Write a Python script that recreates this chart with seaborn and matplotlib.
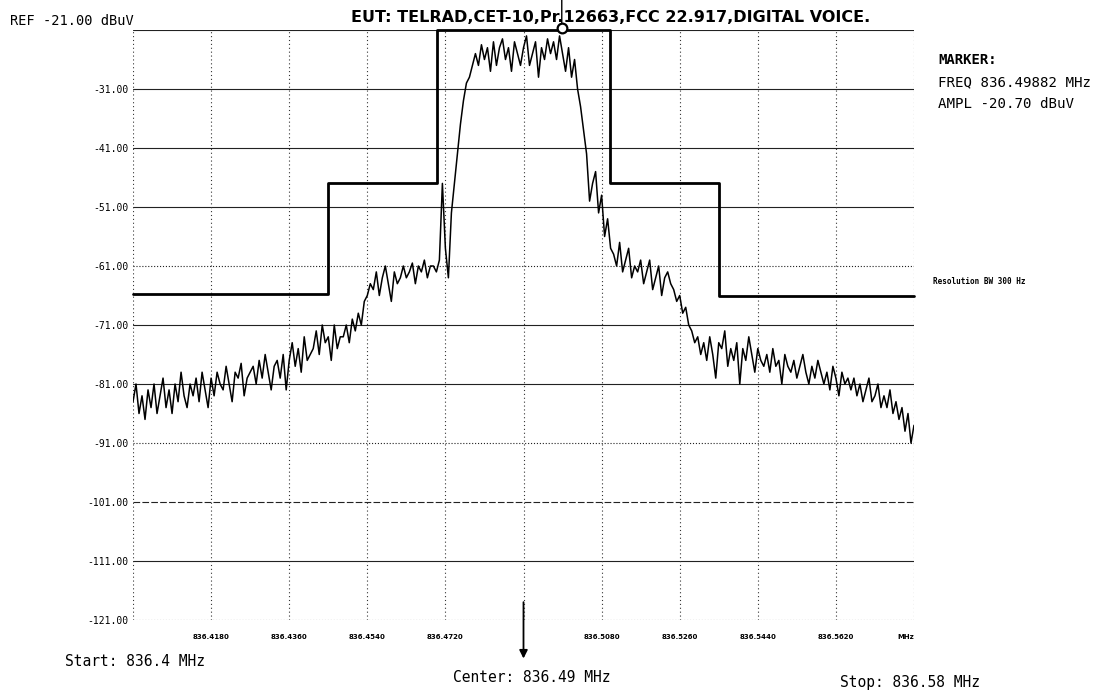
import numpy as np
import matplotlib
matplotlib.use("Agg")
import matplotlib.pyplot as plt
import seaborn as sns

# Sweep settings (MHz)
START_MHZ = 836.40
CENTER_MHZ = 836.49
STOP_MHZ = 836.58
REF_LEVEL = -21.0

# Measured trace, dBuV, evenly spaced over the sweep
trace_dbuv = [
    -84, -81, -86, -83, -87, -82, -85, -81, -86, -83,
    -80, -85, -82, -86, -81, -84, -79, -83, -85, -81,
    -83, -80, -84, -79, -82, -85, -80, -83, -79, -81,
    -82, -78, -81, -84, -79, -80, -77.5, -83, -80, -79,
    -78, -81, -77, -80, -76, -79, -82, -78, -77, -80,
    -76, -82, -77, -74, -78, -75, -79, -73, -77, -76,
    -75, -72, -76, -71, -74, -73, -77, -71, -75, -73,
    -73, -71, -74, -70, -72, -69, -71, -67, -66, -64,
    -65, -62, -66, -63, -61, -64, -67, -62, -64, -63,
    -61, -63, -62, -60.5, -64, -61, -62, -60, -63, -61,
    -61, -62, -60, -47, -58, -63, -52, -47, -42, -37,
    -33, -30, -29, -27, -25, -27, -23.5, -26, -24, -28,
    -23, -27, -24, -22.5, -26, -24, -28, -23, -25, -27,
    -24, -22, -27, -25, -23, -29, -24, -26, -22.5, -25,
    -23, -26, -22, -25, -28, -24, -29, -26, -31, -34,
    -38, -42, -50, -47, -45, -52, -49, -56, -53, -58,
    -59, -61, -57, -62, -60, -58, -63, -61, -62, -60,
    -64, -62, -60, -65, -63, -61, -66, -63, -62, -64,
    -65, -67, -66, -69, -68, -71, -72, -74, -73, -76,
    -74, -77, -73, -76, -80, -74, -75, -72, -78, -75,
    -77, -74, -81, -75, -77, -73, -76, -79, -75, -77,
    -78, -76, -79, -75, -78, -77, -81, -76, -78, -79,
    -77, -80, -78, -76, -79, -81, -78, -80, -77, -79,
    -81, -79, -82, -78, -80, -83, -79, -81, -80, -82,
    -80, -83, -81, -84, -82, -80, -84, -83, -81, -85,
    -83, -85, -82, -86, -84, -87, -85, -89, -86, -91, -88,
]

# FCC 22.917 emission mask (step edges in MHz, level in dBuV)
mask_freq = [836.400, 836.445, 836.470, 836.510, 836.535, 836.580]
mask_level = [-65.7, -47.0, -21.0, -47.0, -66.0, -66.0]

# Marker readout
marker_freq = 836.49882
marker_ampl = -20.70

# Frequency tick labels along the graticule
xtick_freqs = [836.418, 836.436, 836.454, 836.472, 836.508, 836.526,
               836.544, 836.562, 836.580]
xtick_labels = ["836.4180", "836.4360", "836.4540", "836.4720", "836.5080",
                "836.5260", "836.5440", "836.5620", "MHz"]
ylevels = [-21, -31, -41, -51, -61, -71, -81, -91, -101, -111, -121]
ylevel_styles = ["-", "-", "-", "-", ":", "-", "-", ":", (0, (6, 2)), "-", ":"]

sns.set_theme(style="white")
plt.rcParams["font.family"] = ["DejaVu Sans"]
plt.rcParams["text.color"] = "black"
plt.rcParams["xtick.color"] = "black"
plt.rcParams["ytick.color"] = "black"

W, H = 1109, 696
fig = plt.figure(figsize=(W / 100, H / 100), dpi=100)
fig.patch.set_facecolor("white")
ax = fig.add_axes([133 / W, 1 - 620 / H, 781 / W, 590 / H])
ax.set_facecolor("white")

# Graticule
for lvl, ls in zip(ylevels, ylevel_styles):
    ax.axhline(lvl, color="#222222", lw=0.8, ls=ls, zorder=1)
for k in range(11):
    ax.axvline(START_MHZ + k * 0.018, color="#333333", lw=0.8,
               ls=(0, (1, 2.5)), zorder=1)

freq = np.linspace(START_MHZ, STOP_MHZ, len(trace_dbuv))
sns.lineplot(x=freq, y=trace_dbuv, ax=ax, color="black", lw=1.1,
             estimator=None, sort=False, zorder=3)

sns.lineplot(x=mask_freq, y=mask_level, ax=ax, color="black", lw=2.0,
             estimator=None, sort=False, drawstyle="steps-post",
             zorder=4, clip_on=False)

# Marker on the peak
ax.plot([marker_freq], [marker_ampl], marker="o", ms=7, mfc="white",
        mec="black", mew=1.6, clip_on=False, zorder=6)
ax.annotate("", xy=(marker_freq, 1.07), xycoords=("data", "axes fraction"),
            xytext=(marker_freq, marker_ampl), textcoords="data",
            arrowprops=dict(arrowstyle="-", color="black", lw=1.0),
            annotation_clip=False)

# Center-frequency pointer
ax.annotate("", xy=(CENTER_MHZ, -0.07), xycoords=("data", "axes fraction"),
            xytext=(CENTER_MHZ, 0.035), textcoords=("data", "axes fraction"),
            arrowprops=dict(arrowstyle="-|>", color="black", lw=1.3,
                            mutation_scale=12),
            annotation_clip=False)

ax.set_xlim(START_MHZ, STOP_MHZ)
ax.set_ylim(-121, REF_LEVEL)
for s in ax.spines.values():
    s.set_visible(False)

ax.set_yticks(ylevels[1:])
ax.set_yticklabels([f"{v:.2f}" for v in ylevels[1:]],
                   family="DejaVu Sans Mono", fontsize=7)
ax.set_xticks(xtick_freqs)
ax.set_xticklabels(xtick_labels, fontsize=5, fontweight="bold")
ax.tick_params(axis="both", length=0)
ax.tick_params(axis="y", pad=3)
ax.tick_params(axis="x", pad=10)
ax.get_xticklabels()[-1].set_ha("right")
ax.set_xlabel("")
ax.set_ylabel("")

mono = "DejaVu Sans Mono"


def ftext(x, y, s, **kw):
    fig.text(x / W, 1 - y / H, s, va="center", color="black", **kw)


ftext(10, 21, "REF -21.00 dBuV", family=mono, fontsize=9.8)
ftext(611, 17, "EUT: TELRAD,CET-10,Pr.12663,FCC 22.917,DIGITAL VOICE.",
      ha="center", family="DejaVu Sans", fontweight="bold", fontsize=11.5)
ftext(938, 60, "MARKER:", family=mono, fontsize=10, fontweight="bold")
ftext(938, 82, "FREQ 836.49882 MHz", family=mono, fontsize=10.2)
ftext(938, 104, "AMPL -20.70 dBuV", family=mono, fontsize=10.2)
ftext(933, 281, "Resolution BW 300 Hz", family=mono, fontsize=5.5,
      fontweight="bold")
ftext(65, 662, "Start: 836.4 MHz", family=mono, fontsize=10.5)
ftext(453, 677, "Center: 836.49 MHz", family=mono, fontsize=10.5)
ftext(840, 683, "Stop: 836.58 MHz", family=mono, fontsize=10.5)

fig.savefig("out.png", dpi=100, facecolor="white")
